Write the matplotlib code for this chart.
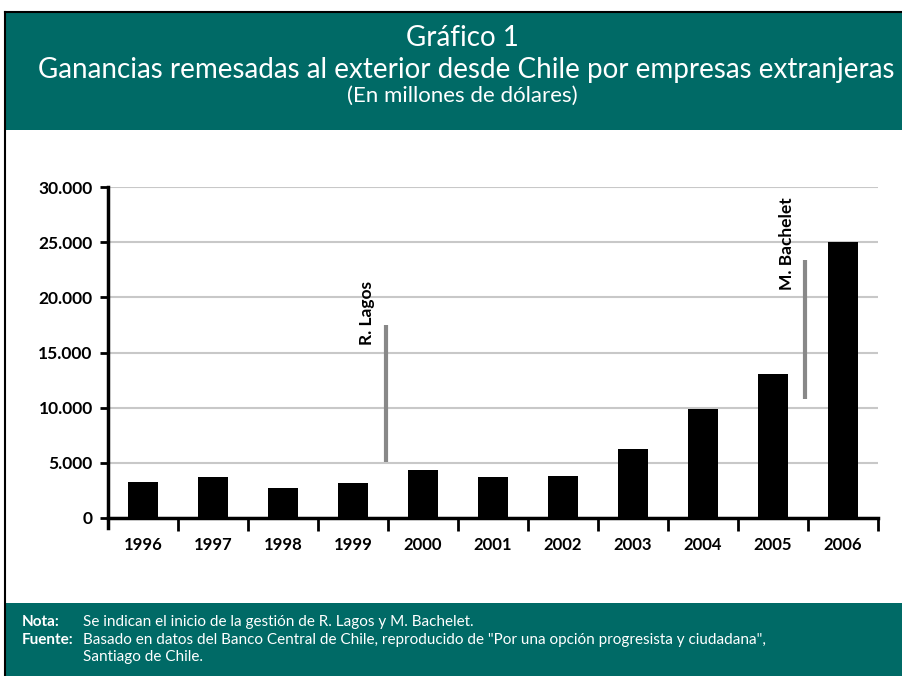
import matplotlib.pyplot as plt
from matplotlib.patches import Rectangle
from matplotlib.lines import Line2D
import numpy as np

# -----------------------------
# Data (millones de dólares)
# -----------------------------
years = ["1996", "1997", "1998", "1999", "2000", "2001",
         "2002", "2003", "2004", "2005", "2006"]
remesas = [3290, 3740, 2750, 3200, 4350, 3720, 3810, 6260, 9850, 13060, 25050]

y_ticks = [0, 5000, 10000, 15000, 20000, 25000, 30000]

# gestiones marcadas (posición entre categorías, tramo vertical)
lagos_pos, lagos_span = 3.47, (5100, 17500)
bachelet_pos, bachelet_span = 9.45, (10800, 23400)

teal = "#006A66"
plt.rcParams["font.family"] = ["Lato", "DejaVu Sans"]

fig = plt.figure(figsize=(9.02, 6.76), dpi=100)

def fy(py):
    return 1 - py / 676

# header / footer bands and outer border
fig.add_artist(Rectangle((5 / 902, fy(130)), 1, fy(12) - fy(130),
                         transform=fig.transFigure, facecolor=teal,
                         edgecolor="none", zorder=0))
fig.add_artist(Rectangle((5 / 902, 0), 1, fy(603),
                         transform=fig.transFigure, facecolor=teal,
                         edgecolor="none", zorder=0))
fig.add_artist(Line2D([5 / 902, 5 / 902], [0, fy(12)], transform=fig.transFigure,
                      color="black", lw=1.5))
fig.add_artist(Line2D([5 / 902, 1], [fy(12), fy(12)], transform=fig.transFigure,
                      color="black", lw=1.5))

# titles
fig.text(462 / 902, fy(38), "Gráfico 1", color="white", fontsize=20,
         ha="center", va="center")
fig.text(466 / 902, fy(70), "Ganancias remesadas al exterior desde Chile por empresas extranjeras",
         color="white", fontsize=20, ha="center", va="center")
fig.text(462 / 902, fy(96), "(En millones de dólares)", color="white", fontsize=16,
         ha="center", va="center")

# footer notes
fs = 11
fig.text(22 / 902, fy(622), "Nota:", color="white", fontsize=fs, fontweight="bold", va="center")
fig.text(83 / 902, fy(622), "Se indican el inicio de la gestión de R. Lagos y M. Bachelet.",
         color="white", fontsize=fs, va="center")
fig.text(22 / 902, fy(640), "Fuente:", color="white", fontsize=fs, fontweight="bold", va="center")
fig.text(83 / 902, fy(640),
         "Basado en datos del Banco Central de Chile, reproducido de \"Por una opción progresista y ciudadana\",",
         color="white", fontsize=fs, va="center")
fig.text(83 / 902, fy(657), "Santiago de Chile.", color="white", fontsize=fs, va="center")

# chart
ax = fig.add_axes([108 / 902, fy(518), 770 / 902, fy(187) - fy(518)])
x = np.arange(len(years))
ax.bar(x, remesas, width=0.44, color="black", zorder=3)

ax.set_xlim(-0.5, len(years) - 0.5)
ax.set_ylim(0, 30000)
ax.set_yticks(y_ticks)
ax.set_yticklabels([f"{v:,}".replace(",", ".") for v in y_ticks],
                   fontsize=12.5, fontweight="bold")
ax.yaxis.grid(True, color="#c8c8c8", lw=1.5, zorder=0)
ax.set_axisbelow(True)

ax.set_xticks(x)
ax.set_xticklabels(years, fontsize=12, fontweight="bold")
ax.tick_params(axis="x", which="major", length=0, pad=14)
ax.set_xticks(np.arange(len(years)) + 0.5, minor=True)
ax.tick_params(axis="x", which="minor", length=9, width=2, direction="out")
ax.tick_params(axis="y", length=6, width=2, direction="out", pad=5)

for side in ["top", "right"]:
    ax.spines[side].set_visible(False)
ax.spines["left"].set_linewidth(2.5)
ax.spines["bottom"].set_linewidth(2.5)
ax.spines["left"].set_bounds(-900, 30000)
ax.spines["left"].set_clip_on(False)

# government markers
ax.vlines(lagos_pos, *lagos_span, color="#888888", lw=3, zorder=4)
ax.text(lagos_pos - 0.27, 15700, "R. Lagos", rotation=90, ha="center", va="bottom",
        fontsize=12.5, fontweight="bold")
ax.vlines(bachelet_pos, *bachelet_span, color="#888888", lw=3, zorder=4)
ax.text(bachelet_pos - 0.25, 20650, "M. Bachelet", rotation=90, ha="center", va="bottom",
        fontsize=12.5, fontweight="bold")

fig.savefig("out.png", dpi=100)
